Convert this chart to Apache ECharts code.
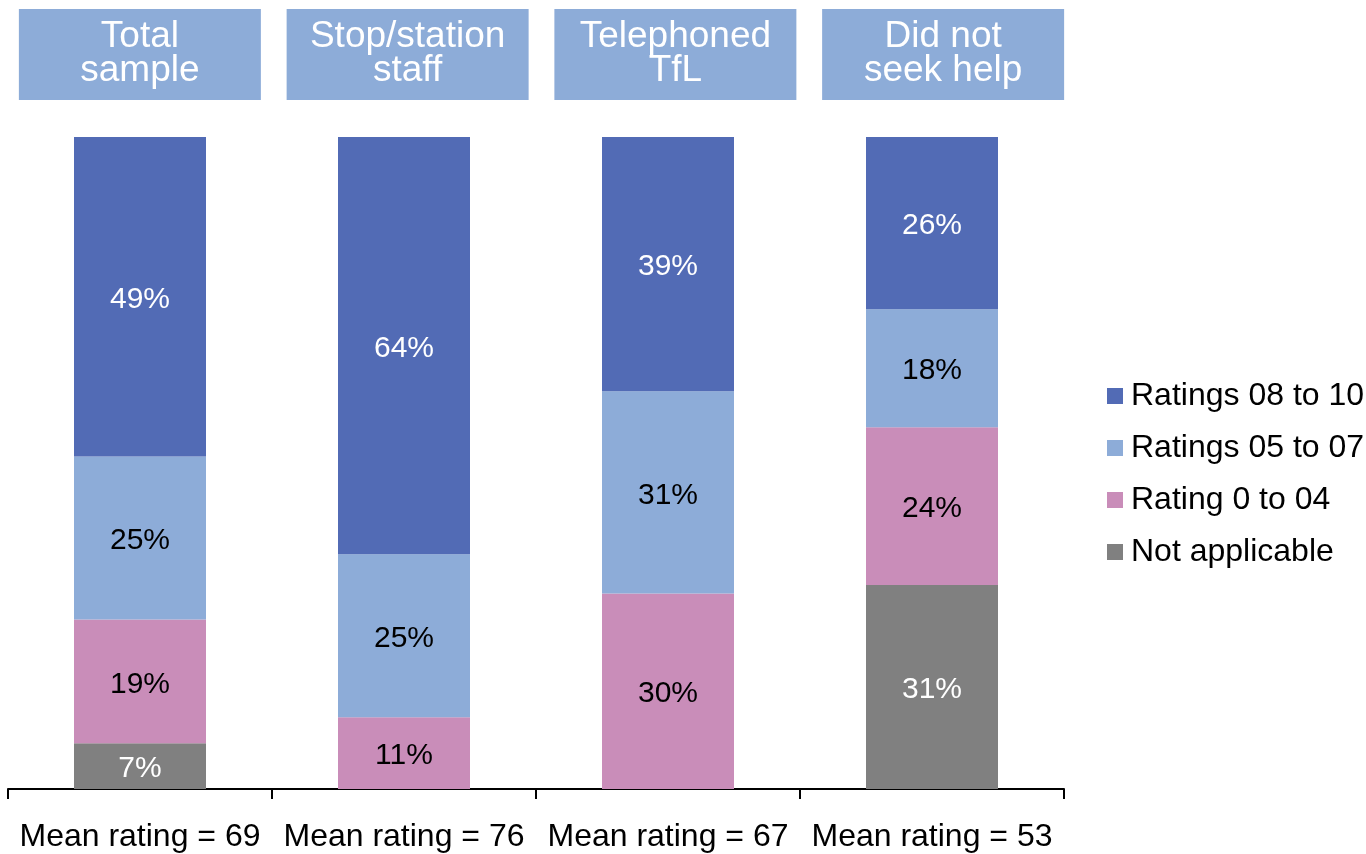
<!DOCTYPE html>
<html>
<head>
<meta charset="utf-8">
<script src="https://cdn.jsdelivr.net/npm/echarts@6/dist/echarts.min.js"></script>
<style>html,body{margin:0;padding:0;background:#fff;}#c{width:1366px;height:854px;}</style>
</head>
<body>
<div id="c"></div>
<script>
const groups = ['Total\nsample', 'Stop/station\nstaff', 'Telephoned\nTfL', 'Did not\nseek help'];
const meanLabels = ['Mean rating = 69', 'Mean rating = 76', 'Mean rating = 67', 'Mean rating = 53'];
const notApplicable = [7, 0, 0, 31.3];
const rating0to04 = [19, 11, 30, 24.2];
const ratings05to07 = [25, 25, 31, 18.1];
const ratings08to10 = [49, 64, 39, 26.4];

const FONT = '"Liberation Sans", Arial, sans-serif';
const chart = echarts.init(document.getElementById('c'));

function mk(name, data, color, labelColor) {
  return {
    name: name, type: 'bar', stack: 'all', data: data, barWidth: '50%',
    xAxisIndex: 0, yAxisIndex: 0,
    itemStyle: { color: color },
    label: {
      show: true, position: 'inside', color: labelColor, fontSize: 30, fontFamily: FONT,
      offset: [0, 3],
      formatter: p => p.value > 0 ? Math.round(p.value) + '%' : ''
    },
    emphasis: { disabled: true }
  };
}

chart.setOption({
  animation: false,
  textStyle: { fontFamily: FONT },
  grid: [
    { left: 8, right: 302, top: 137, bottom: 65, containLabel: false },
    { left: 6, right: 289, top: 137, bottom: 65, containLabel: false }
  ],
  legend: {
    orient: 'vertical', left: 1102, top: 375,
    data: ['Ratings 08 to 10', 'Ratings 05 to 07', 'Rating 0 to 04', 'Not applicable'],
    icon: 'rect', itemWidth: 16, itemHeight: 16, itemGap: 20,
    textStyle: { fontSize: 32, lineHeight: 30, color: '#000', fontFamily: FONT, padding: [0, 0, 0, 3] }
  },
  xAxis: [
    {
      type: 'category', data: meanLabels, position: 'bottom', gridIndex: 0,
      axisLine: { lineStyle: { color: '#000', width: 2 } },
      axisTick: { show: true, length: 10, lineStyle: { color: '#000', width: 2 } },
      axisLabel: { interval: 0, margin: 32, fontSize: 32, color: '#000', fontFamily: FONT }
    },
    {
      type: 'category', data: groups, position: 'top', gridIndex: 1,
      axisLine: { show: false }, axisTick: { show: false },
      axisLabel: {
        interval: 0, margin: 37, fontSize: 37, lineHeight: 34, color: '#fff', fontFamily: FONT,
        backgroundColor: '#8DACD8', width: 242, align: 'center', padding: [11, 0, 12, 0]
      }
    }
  ],
  yAxis: [
    { type: 'value', min: 0, max: 100, show: false, gridIndex: 0, splitLine: { show: false } },
    { type: 'value', min: 0, max: 100, show: false, gridIndex: 1, splitLine: { show: false } }
  ],
  series: [
    mk('Not applicable', notApplicable, '#808080', '#fff'),
    mk('Rating 0 to 04', rating0to04, '#C98DB9', '#000'),
    mk('Ratings 05 to 07', ratings05to07, '#8DACD8', '#000'),
    mk('Ratings 08 to 10', ratings08to10, '#526BB5', '#fff')
  ]
});
</script>
</body>
</html>
